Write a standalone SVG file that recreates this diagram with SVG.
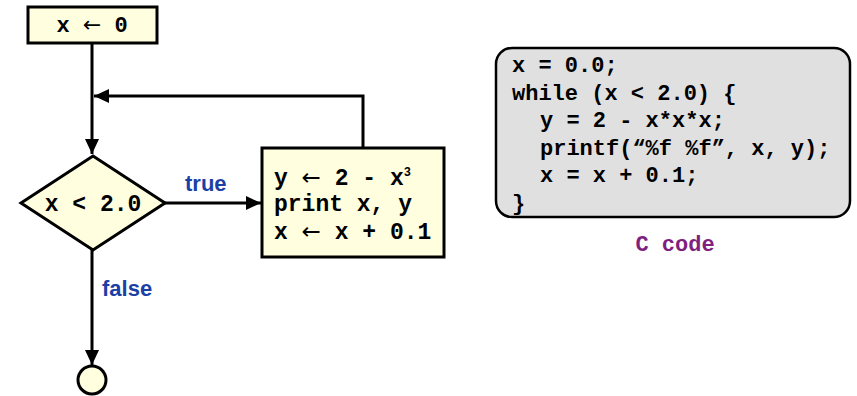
<svg xmlns="http://www.w3.org/2000/svg" width="857" height="396" viewBox="0 0 857 396">
  <defs>
    <marker id="arrow" markerWidth="16" markerHeight="14" refX="15" refY="7" orient="auto" markerUnits="userSpaceOnUse">
      <path d="M0,0 L15,7 L0,14 Z" fill="#000"/>
    </marker>
    <style>
      .node { fill: #ffffe0; stroke: #000; stroke-width: 3; }
      .code { font-family: "Liberation Mono", "Courier New", monospace; font-weight: bold; font-size: 22px; fill: #000; }
      .big { font-size: 23px; }
      .sym { font-family: "DejaVu Sans", sans-serif; font-weight: normal; }
      .edge { fill: none; stroke: #000; stroke-width: 3; }
      .label { font-family: "Liberation Sans", Arial, sans-serif; font-weight: bold; font-size: 22px; fill: #1c3fa6; }
      .caption { font-size: 22px; fill: #7f1f7f; }
    </style>
  </defs>

  <!-- connectors -->
  <g id="connectors">
    <line class="edge" x1="92" y1="43" x2="92" y2="154" marker-end="url(#arrow)"/>
    <polyline class="edge" points="363,148 363,96 94,96" marker-end="url(#arrow)"/>
    <line class="edge" x1="165" y1="203" x2="261" y2="203" marker-end="url(#arrow)"/>
    <line class="edge" x1="92" y1="250" x2="92" y2="365" marker-end="url(#arrow)"/>
    <text class="label" x="185" y="191">true</text>
    <text class="label" x="102" y="296">false</text>
  </g>

  <!-- initialisation -->
  <g id="init">
    <rect class="node" x="28" y="7" width="129" height="36"/>
    <text class="code" x="92" y="32" text-anchor="middle">x <tspan class="sym">←</tspan> 0</text>
  </g>

  <!-- loop test -->
  <g id="test">
    <polygon class="node" points="93,156 165,203 93,250 21,203"/>
    <text class="code big" x="93" y="211" text-anchor="middle">x &lt; 2.0</text>
  </g>

  <!-- loop body -->
  <g id="body">
    <rect class="node" x="262" y="148" width="182" height="109"/>
    <text class="code big" x="274" y="185">y <tspan class="sym">←</tspan> 2 - x<tspan font-size="12" dy="-9">3</tspan></text>
    <text class="code big" x="274" y="211">print x, y</text>
    <text class="code big" x="274" y="239">x <tspan class="sym">←</tspan> x + 0.1</text>
  </g>

  <!-- end -->
  <g id="end">
    <circle class="node" cx="92" cy="380" r="14"/>
  </g>

  <!-- C listing -->
  <g id="ccode">
    <rect x="496" y="48" width="354" height="169" rx="16" ry="16" fill="#e0e0e0" stroke="#000" stroke-width="2.5"/>
    <text class="code">
      <tspan x="512" y="72">x = 0.0;</tspan>
      <tspan x="512" y="100">while (x &lt; 2.0) {</tspan>
      <tspan x="540" y="127">y = 2 - x*x*x;</tspan>
      <tspan x="540" y="155">printf(“%f %f”, x, y);</tspan>
      <tspan x="540" y="182">x = x + 0.1;</tspan>
      <tspan x="512" y="210">}</tspan>
    </text>
    <text class="code caption" x="675" y="251" text-anchor="middle">C code</text>
  </g>
</svg>
